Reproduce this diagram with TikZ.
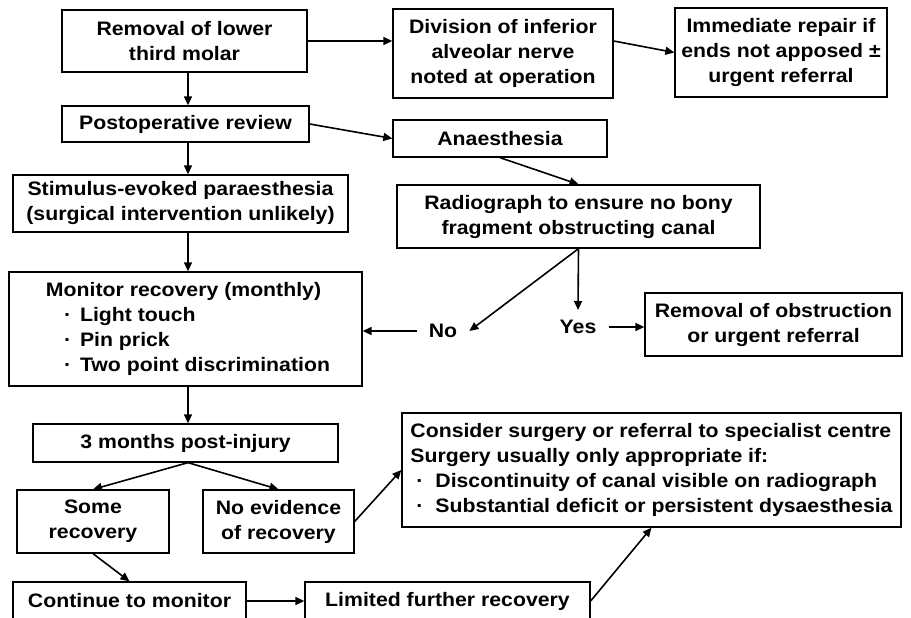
\documentclass[tikz,border=0pt]{standalone}
\usepackage{fontspec}
\setmainfont[FakeStretch=1.09]{Liberation Sans}
\usepackage{tikz}
\usetikzlibrary{arrows.meta}

\newcommand{\bul}[1]{\makebox[#1][l]{·}}

\begin{document}
\begin{tikzpicture}[x=1pt,y=-1pt,
    box/.style={draw, line width=1.3pt, inner sep=0pt, align=center,
        font=\bfseries\fontsize{19.5}{25}\selectfont},
    lbl/.style={inner xsep=12pt, inner ysep=4pt, font=\bfseries\fontsize{19.5}{25}\selectfont},
    arrow/.style={-{Triangle[length=9pt,width=8pt]}, line width=1.6pt}]

\useasboundingbox (0,0) rectangle (911,618);
\clip (0,0) rectangle (911,618);
\coordinate (trunk) at (188,0);

\node [box, minimum width=245pt, minimum height=62pt] (rem) at (184.5,41) {Removal of lower\\third molar};
\node [box, minimum width=220pt, minimum height=89pt] (div) at (503,53.5) {Division of inferior\\alveolar nerve\\noted at operation};
\node [box, minimum width=212pt, minimum height=89pt] (imm) at (781,52.5) {Immediate repair if\\ends not apposed ±\\urgent referral};

\node [box, minimum width=247pt, minimum height=36pt] (postop) at (185.5,124) {Postoperative review};
\node [box, minimum width=214pt, minimum height=37pt] (anaes) at (500,138.5) {Anaesthesia};

\node [box, minimum width=335pt, minimum height=57pt] (stim) at (180.5,203.5) {Stimulus-evoked paraesthesia\\(surgical intervention unlikely)};
\node [box, minimum width=363pt, minimum height=63pt] (radio) at (578.5,216.5) {Radiograph to ensure no bony\\fragment obstructing canal};

\node [box, align=left, minimum width=353pt, minimum height=114pt] (monitor) at (185.5,329)
    {\makebox[285pt][c]{Monitor recovery (monthly)}\\
     \hspace*{23pt}\bul{16pt}Light touch\\
     \hspace*{23pt}\bul{16pt}Pin prick\\
     \hspace*{23pt}\bul{16pt}Two point discrimination};
\node [lbl] (no) at (443,331) {No};
\node [lbl, inner ysep=10pt] (yes) at (578,327) {Yes};
\node [box, minimum width=257pt, minimum height=63pt] (obst) at (773.5,324.5) {Removal of obstruction\\or urgent referral};

\node [box, minimum width=305pt, minimum height=38pt] (three) at (185.5,443) {3 months post-injury};
\node [box, align=left, minimum width=499pt, minimum height=114pt] (consider) at (651.5,470)
    {Consider surgery or referral to specialist centre\\
     Surgery usually only appropriate if:\\
     \hspace*{6pt}\bul{19pt}Discontinuity of canal visible on radiograph\\
     \hspace*{6pt}\bul{19pt}Substantial deficit or persistent dysaesthesia};
\node [box, minimum width=152pt, minimum height=63pt] (some) at (93,521.5) {Some\\recovery};
\node [box, minimum width=151pt, minimum height=63pt] (noev) at (278.5,521.5) {No evidence\\of recovery};

\node [box, minimum width=233pt, minimum height=38pt] (cont) at (129.5,601) {Continue to monitor};
\node [box, minimum width=285pt, minimum height=38pt] (lim) at (447.5,601) {Limited further recovery};

\draw [arrow] (rem.east) -- (rem.east -| div.west);
\draw [arrow] (div.east |- rem.east) -- (imm.west);
\draw [arrow] (rem.south -| trunk) -- (postop.north -| trunk);
\draw [arrow] (postop.east) -- (anaes.west);
\draw [arrow] (postop.south -| trunk) -- (stim.north -| trunk);
\draw [arrow] (anaes.south) -- (radio.north);
\draw [arrow] (stim.south -| trunk) -- (monitor.north -| trunk);
\draw [arrow] (radio.south) -- (no.east);
\draw [arrow] (radio.south) -- (yes.north);
\draw [arrow] (no.west) -- (no.west -| monitor.east);
\draw [arrow] (yes.east) -- (yes.east -| obst.west);
\draw [arrow] (monitor.south -| trunk) -- (three.north -| trunk);
\draw [arrow] (three.south -| trunk) -- (some.north);
\draw [arrow] (three.south -| trunk) -- (noev.north);
\draw [arrow] (noev.east) -- (consider.west);
\draw [arrow] (some.south) -- (cont.north);
\draw [arrow] (cont.east) -- (lim.west);
\draw [arrow] (lim.east) -- (consider.south);
\end{tikzpicture}
\end{document}
